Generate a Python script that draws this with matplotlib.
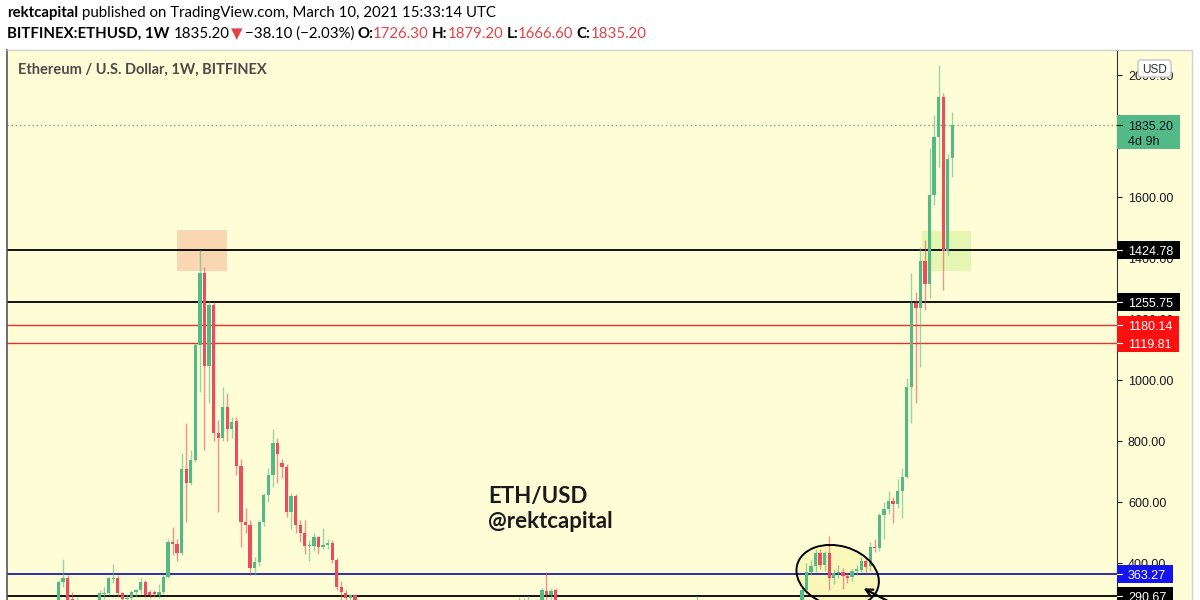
import pandas as pd
import matplotlib
matplotlib.use("Agg")
import matplotlib.pyplot as plt
from matplotlib.patches import Rectangle, Ellipse, FancyBboxPatch
from matplotlib.lines import Line2D
from matplotlib.transforms import ScaledTranslation, IdentityTransform

plt.rcParams["font.family"] = ["Lato", "DejaVu Sans"]

# ============================================
# Data (weekly candles, BITFINEX:ETHUSD, only the part inside the view)
# ============================================

REF_WEEK = pd.Timestamp("2018-01-08")

# June 2017 top
start_a = "2017-06-05"
open_a = [250, 339, 350, 282, 262]
high_a = [345, 412, 360, 305, 290]
low_a = [240, 320, 270, 250, 250]
close_a = [339, 350, 280, 262, 265]

# Aug 2017 -> Sep 2018
start_b = "2017-08-07"
open_b = [275, 298, 301, 348, 350, 301, 282, 284, 306, 311, 339, 304, 305, 296, 306,
          355, 470, 462, 432, 707, 661, 738, 1115, 1350, 1047, 1246, 825, 809, 912, 838,
          865, 719, 535, 524, 382, 404, 535, 622, 688, 792, 729, 716, 568, 620, 524,
          497, 455, 455, 486, 453, 459, 466, 409, 322, 301, 285, 296]
high_b = [310, 320, 355, 397, 360, 305, 300, 310, 315, 350, 345, 310, 312, 330, 360,
          480, 519, 480, 760, 860, 770, 1120, 1424.78, 1372, 1260, 1255, 870, 978, 956, 880,
          880, 740, 580, 540, 420, 540, 630, 711, 841, 810, 740, 725, 630, 625, 540,
          540, 475, 500, 490, 515, 480, 475, 415, 340, 310, 300, 300]
low_b = [265, 282, 295, 335, 290, 200, 250, 270, 290, 300, 290, 285, 290, 285, 300,
         350, 425, 405, 425, 535, 655, 730, 962, 770, 925, 800, 568, 800, 800, 810,
         690, 453, 500, 360, 360, 390, 520, 600, 650, 662, 680, 550, 510, 500, 470,
         430, 405, 440, 430, 445, 445, 400, 310, 250, 270, 275, 190]
close_b = [301, 303, 350, 352, 301, 282, 286, 306, 311, 339, 295, 296, 297, 306, 355,
           470, 462, 432, 707, 661, 738, 1115, 1350, 1047, 1246, 825, 809, 912, 838, 863,
           719, 535, 524, 382, 404, 535, 622, 688, 792, 759, 716, 568, 620, 524, 497,
           455, 460, 486, 453, 459, 466, 409, 322, 306, 285, 296, 200]

# mid 2019
start_c = "2019-05-13"
open_c = [200, 262, 268, 270, 250, 270, 309, 295, 312]
high_c = [288, 285, 291, 275, 282, 318, 372, 318, 318]
low_c = [190, 235, 255, 230, 245, 265, 270, 270, 220]
close_c = [262, 268, 270, 250, 270, 311, 295, 309, 230]

# Feb 2020
start_d = "2020-02-10"
open_d = [223]
high_d = [292]
low_d = [220]
close_d = [265]

# Jul 2020 -> Mar 2021
start_e = "2020-07-20"
open_e = [238, 311, 372, 390, 434, 393, 432, 350, 366, 370, 358, 353, 373, 378, 405,
          390, 453, 448, 557, 576, 603, 592, 637, 683, 978, 1253, 1235, 1390, 1314, 1607,
          1798, 1929, 1423, 1726.30]
high_e = [320, 400, 410, 445, 445, 440, 488, 380, 395, 385, 370, 380, 395, 420, 415,
          470, 480, 565, 600, 635, 615, 675, 711, 1006, 1350, 1290, 1437, 1460, 1760, 1869,
          2033, 1940, 1740, 1879.20]
low_e = [230, 300, 360, 370, 380, 375, 311, 330, 350, 315, 335, 340, 360, 370, 370,
         375, 435, 440, 480, 560, 531, 580, 548, 680, 858, 925, 1044, 1230, 1270, 1573,
         1700, 1295, 1410, 1666.60]
close_e = [311, 372, 390, 434, 393, 432, 350, 366, 372, 356, 352, 373, 380, 405, 387,
           453, 448, 557, 576, 603, 592, 637, 683, 978, 1253, 1235, 1390, 1314, 1607, 1798,
           1929, 1423, 1724, 1835.20]

# horizontal levels drawn on the chart
level_values = [1424.78, 1255.75, 1180.14, 1119.81, 363.27, 290.67]
level_line_colors = ["#000000", "#000000", "#e8302c", "#e8302c", "#1e1ea6", "#000000"]
level_box_colors = ["#000000", "#000000", "#ff1010", "#ff1010", "#1414f0", "#000000"]
last_price = 1835.20
price_ticks = [400, 600, 800, 1000, 1200, 1400, 1600, 1800, 2000]

# ============================================
# Build candle table
# ============================================

segments = [
    (start_a, open_a, high_a, low_a, close_a),
    (start_b, open_b, high_b, low_b, close_b),
    (start_c, open_c, high_c, low_c, close_c),
    (start_d, open_d, high_d, low_d, close_d),
    (start_e, open_e, high_e, low_e, close_e),
]
frames = []
for start, o, h, l, c in segments:
    frames.append(pd.DataFrame({
        "date": pd.date_range(start, periods=len(o), freq="7D"),
        "open": o, "high": h, "low": l, "close": c,
    }))
df = pd.concat(frames, ignore_index=True)
df["week"] = (df["date"] - REF_WEEK).dt.days / 7

GREEN = "#53b987"
RED = "#eb4d5c"
up = df["close"] >= df["open"]
body_colors = [GREEN if u else RED for u in up]
wick_colors = [(0.33, 0.73, 0.53, 0.6) if u else (0.92, 0.30, 0.36, 0.6) for u in up]

# ============================================
# Figure
# ============================================

W, H = 1200, 600
BG = "#fffdd6"
fig = plt.figure(figsize=(12, 6), dpi=100, facecolor="white")

# yellow chart panel (incl. price scale area)
fig.add_artist(Rectangle((7, 0), 1185, 550, transform=IdentityTransform(),
                         facecolor=BG, edgecolor="none", zorder=-2))
fig.add_artist(Line2D([7, 1192], [550, 550], transform=IdentityTransform(),
                      color="#cfcfcf", lw=1, zorder=-1))
fig.add_artist(Line2D([1192, 1192], [0, 550], transform=IdentityTransform(),
                      color="#d5d5d5", lw=1, zorder=-1))

ax = fig.add_axes([7 / W, 0, 1110 / W, 550 / H])
ax.set_facecolor(BG)

# highlight boxes
ax.add_patch(Rectangle((-5.0, 1357), 10.9, 135, facecolor="#f9d7b2", edgecolor="none", zorder=1))
ax.add_patch(Rectangle((158.3, 1359), 10.8, 131, facecolor="#def5a8", edgecolor="none",
                       alpha=0.8, zorder=1))

# levels
for v, col in zip(level_values, level_line_colors):
    lw = 1.0 if col == "#e8302c" else 1.3
    ax.axhline(v, color=col, lw=lw, zorder=2)
ax.axhline(last_price, color=GREEN, lw=1, ls=(0, (1, 2)), zorder=2)

# candles
ax.vlines(df["week"], df["low"], df["high"], colors=wick_colors, lw=1, zorder=3)
ax.bar(df["week"], (df["close"] - df["open"]).abs().clip(lower=4),
       bottom=df[["open", "close"]].min(axis=1), width=0.72,
       color=body_colors, linewidth=0, zorder=4)

ax.set_xlim(-42.3, 201.1)
ax.set_ylim(278.7, 2082)

# ellipse around the 2020 base (drawn in pixel units at a data anchor)
ell_anchor = ScaledTranslation(139.85, 357.4, ax.transData)
ax.add_patch(Ellipse((0, 0), 84, 60, angle=-16, transform=ell_anchor,
                     facecolor="#f5f09a", edgecolor="none", alpha=0.45, zorder=1.5))
ax.add_patch(Ellipse((0, 0), 84, 60, angle=-16, transform=ell_anchor,
                     facecolor="none", edgecolor="black", lw=1.4, zorder=5))
ax.annotate("", xy=(145.0, 321), xytext=(156, 235),
            arrowprops=dict(arrowstyle="->", color="black", lw=1.6, mutation_scale=12),
            annotation_clip=False, zorder=5)

# axes look
ax.set_xticks([])
ax.yaxis.tick_right()
ax.set_yticks(price_ticks, labels=[f"{t:.2f}" for t in price_ticks],
              fontfamily="Liberation Sans")
ax.tick_params(axis="y", direction="out", length=3.6, width=0.8, pad=4.3,
               labelsize=9, colors="#131722")
ax.spines["bottom"].set_visible(False)
ax.spines["top"].set_color("#cfcfcf")
ax.spines["left"].set_color("#555555")
ax.spines["left"].set_linewidth(1.2)
ax.spines["right"].set_color("#333333")

# ============================================
# Price scale labels
# ============================================

renderer = fig.canvas.get_renderer()

for v, col in zip(level_values, level_box_colors):
    yd = ax.transData.transform((0, v))[1]
    t = fig.text(1128 / W, yd / H, f"{v:.2f}", color="white", fontsize=9,
                 family="Liberation Sans", va="center_baseline", ha="left", zorder=7)
    w = t.get_window_extent(renderer).width
    fig.add_artist(Rectangle((1117, yd - 9), 11 + w + 7, 18, transform=IdentityTransform(),
                             facecolor=col, edgecolor="none", zorder=6))
    fig.add_artist(Line2D([1117, 1122], [yd, yd], transform=IdentityTransform(),
                          color="white", lw=0.8, zorder=7))

# last price box
yd = ax.transData.transform((0, last_price))[1]
fig.add_artist(Rectangle((1117, yd - 23.5), 63, 33.5, transform=IdentityTransform(),
                         facecolor=GREEN, edgecolor="none", zorder=6))
fig.add_artist(Line2D([1117, 1122], [yd, yd], transform=IdentityTransform(),
                      color="#131722", lw=0.8, zorder=7))
fig.text(1128 / W, yd / H, f"{last_price:.2f}", color="#131722", fontsize=9,
         family="Liberation Sans", va="center_baseline", ha="left", zorder=7)
fig.text(1128 / W, (yd - 15) / H, "4d 9h", color="#131722", fontsize=9,
         family="Liberation Sans", va="center_baseline", ha="left", zorder=7)

# currency tag
fig.add_artist(FancyBboxPatch((1138, 600 - 77), 33, 17, boxstyle="round,pad=0,rounding_size=3",
                              transform=IdentityTransform(), facecolor="white",
                              edgecolor="#c4c4c4", lw=1, zorder=6))
fig.text(1154.5 / W, 1 - 68.5 / H, "USD", color="#333333", fontsize=8.5,
         family="Liberation Sans", va="center_baseline", ha="center", zorder=7)

# ============================================
# Texts
# ============================================

fig.text(18 / W, 1 - 70 / H, "Ethereum / U.S. Dollar, 1W, BITFINEX", fontsize=10.5,
         fontweight="bold", color="#4a4a4a", va="center")

fig.text(488 / W, 1 - 497 / H, "ETH/USD", fontsize=16, fontweight="bold",
         color="#1a1a1a", va="center")
fig.text(488 / W, 1 - 521 / H, "@rektcapital", fontsize=16, fontweight="bold",
         color="#1a1a1a", va="center")

HEAD_RED = "#e0454a"


def draw_runs(x_px, y_img, runs):
    for s, color, weight, gap in runs:
        t = fig.text(x_px / W, 1 - y_img / H, s, color=color, fontweight=weight,
                     fontsize=10.8, va="center", ha="left")
        x_px += t.get_window_extent(renderer).width + gap


draw_runs(7, 13, [
    ("rektcapital", "black", "bold", 4),
    ("published on TradingView.com, March 10, 2021 15:33:14 UTC", "black", "normal", 0),
])
draw_runs(7, 34, [
    ("BITFINEX:ETHUSD, 1W", "black", "bold", 4),
    ("1835.20", "black", "normal", 2),
    ("▼", HEAD_RED, "normal", 2),
    ("−38.10 (−2.03%)", "black", "normal", 3),
    ("O:", "black", "bold", 0),
    ("1726.30", HEAD_RED, "normal", 3),
    ("H:", "black", "bold", 0),
    ("1879.20", HEAD_RED, "normal", 3),
    ("L:", "black", "bold", 0),
    ("1666.60", HEAD_RED, "normal", 3),
    ("C:", "black", "bold", 0),
    ("1835.20", HEAD_RED, "normal", 0),
])

fig.savefig("out.png", dpi=100, facecolor="white")
